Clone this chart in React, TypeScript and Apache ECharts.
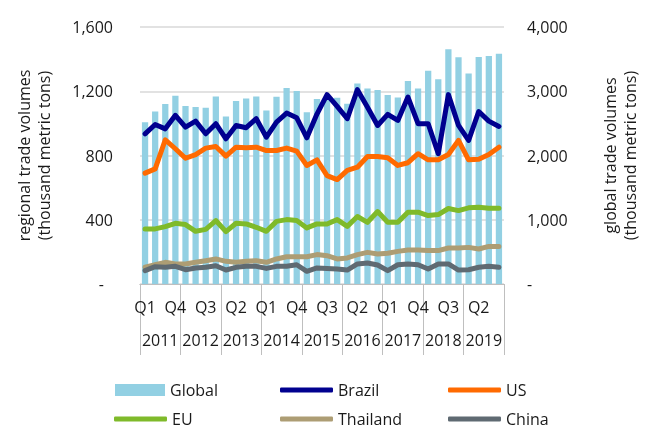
import React, { useEffect, useRef } from "react";
import * as echarts from "echarts";

const years = ["2011", "2012", "2013", "2014", "2015", "2016", "2017", "2018", "2019"];
const quarterNames = ["Q1", "Q2", "Q3", "Q4"];
const quarters: string[] = [];
years.forEach((y) => quarterNames.forEach((q) => quarters.push(q)));

const globalVals = [
  2519, 2686, 2801, 2930, 2769, 2753, 2743, 2920, 2608, 2847, 2889, 2920,
  2701, 2915, 3049, 3003, 2675, 2878, 2870, 2899, 2806, 3122, 3044, 3018,
  2940, 2904, 3158, 3044, 3320, 3185, 3652, 3528, 3278, 3532, 3548, 3585,
];
const brazil = [
  935, 993, 966, 1050, 977, 1014, 935, 998, 904, 987, 973, 1029,
  914, 1008, 1064, 1035, 910, 1058, 1179, 1106, 1029, 1210, 1101, 987,
  1056, 1018, 1164, 998, 998, 811, 1179, 987, 894, 1074, 1014, 981,
];
const us = [
  690, 717, 898, 842, 783, 806, 846, 856, 796, 852, 848, 852,
  831, 831, 846, 827, 738, 773, 675, 650, 707, 727, 794, 794,
  786, 738, 755, 811, 773, 773, 806, 894, 773, 777, 806, 852,
];
const eu = [
  343, 343, 357, 378, 370, 328, 340, 395, 326, 378, 374, 353,
  328, 390, 401, 395, 349, 374, 374, 401, 359, 420, 384, 451,
  384, 384, 447, 447, 426, 432, 470, 457, 474, 478, 472, 472,
];
const thailand = [
  104, 120, 135, 125, 125, 135, 145, 156, 141, 135, 141, 145,
  135, 156, 170, 170, 170, 183, 176, 156, 162, 183, 197, 187,
  191, 203, 212, 212, 208, 208, 224, 224, 228, 218, 234, 234,
];
const china = [
  83, 108, 104, 110, 89, 100, 104, 114, 87, 104, 110, 110,
  97, 110, 110, 120, 79, 100, 97, 93, 87, 125, 131, 118,
  83, 120, 125, 120, 93, 125, 125, 87, 89, 104, 110, 104,
];

const leftTicks = [0, 400, 800, 1200, 1600];
const rightTicks = [0, 1000, 2000, 3000, 4000];

const FONT = "Open Sans";
const FS = 16;
const TXT = "#1a1a1a";

const lineDefs = [
  { name: "Brazil", data: brazil, color: "#00008f" },
  { name: "US", data: us, color: "#ff6a00" },
  { name: "EU", data: eu, color: "#7fba2a" },
  { name: "Thailand", data: thailand, color: "#ad9d74" },
  { name: "China", data: china, color: "#5f6a72" },
];

const fmt = (v: number) => (v === 0 ? "-" : v.toLocaleString("en-US"));

export default function App() {
  const ref = useRef<HTMLDivElement>(null);
  useEffect(() => {
    if (!ref.current) return;
    const chart = echarts.init(ref.current, undefined, { renderer: "svg" });
    const legendPos: Record<string, [number, number]> = {
      Global: [115, 382],
      Brazil: [280, 382],
      US: [448, 382],
      EU: [114, 411],
      Thailand: [280, 411],
      China: [448, 411],
    };
    const legends = Object.keys(legendPos).map((n) => ({
      data: [n],
      left: legendPos[n][0],
      top: legendPos[n][1],
      padding: 0,
      icon: n === "Global" ? "rect" : "roundRect",
      itemWidth: n === "Global" ? 50 : 53,
      itemHeight: n === "Global" ? 12 : 5,
      textStyle: { fontFamily: FONT, fontSize: FS, color: TXT },
      selectedMode: false,
    }));
    chart.setOption({
      animation: false,
      textStyle: { fontFamily: FONT },
      legend: legends,
      grid: { left: 140, right: 131, top: 27, bottom: 146 },
      xAxis: [
        {
          type: "category",
          data: quarters,
          axisLine: { show: true, lineStyle: { color: "#bfbfbf", width: 1 } },
          axisTick: { show: false },
          axisLabel: { interval: 2, margin: 15, fontFamily: FONT, fontSize: FS, color: TXT },
        },
        {
          type: "category",
          data: years,
          position: "bottom",
          axisLine: { show: true, lineStyle: { color: "#bfbfbf", width: 1 } },
          axisTick: { show: true, length: 71, lineStyle: { color: "#bfbfbf", width: 1 } },
          axisLabel: { interval: 0, margin: 48, fontFamily: FONT, fontSize: FS, color: TXT },
        },
      ],
      yAxis: [
        {
          type: "value",
          min: leftTicks[0],
          max: leftTicks[leftTicks.length - 1],
          interval: 400,
          name: "regional trade volumes\n(thousand metric tons)",
          nameLocation: "middle",
          nameRotate: 90,
          nameGap: 86,
          nameTextStyle: { fontFamily: FONT, fontSize: FS, color: TXT, lineHeight: 20 },
          axisLine: { show: false },
          axisTick: { show: false },
          splitLine: { show: true, lineStyle: { color: "#d9d9d9", width: 1.5 } },
          axisLabel: {
            margin: 27,
            fontFamily: FONT,
            fontSize: FS,
            color: TXT,
            formatter: (v: number) => (v === 0 ? "{d|-}" : fmt(v)),
            rich: { d: { padding: [0, 9, 0, 0], fontFamily: FONT, fontSize: FS, color: TXT } },
          },
        },
        {
          type: "value",
          min: rightTicks[0],
          max: rightTicks[rightTicks.length - 1],
          interval: 1000,
          name: "global trade volumes\n(thousand metric tons)",
          nameLocation: "middle",
          nameRotate: 90,
          nameGap: 96,
          nameTextStyle: { fontFamily: FONT, fontSize: FS, color: TXT, lineHeight: 20 },
          axisLine: { show: false },
          axisTick: { show: false },
          splitLine: { show: false },
          axisLabel: { margin: 23, fontFamily: FONT, fontSize: FS, color: TXT, formatter: fmt },
        },
      ],
      series: [
        {
          name: "Global",
          type: "bar",
          xAxisIndex: 0,
          yAxisIndex: 1,
          data: globalVals,
          barWidth: "62%",
          itemStyle: { color: "#92d0e3" },
        },
        ...lineDefs.map((d) => ({
          name: d.name,
          type: "line",
          xAxisIndex: 0,
          yAxisIndex: 0,
          data: d.data,
          showSymbol: false,
          symbol: "none",
          itemStyle: { color: d.color },
          lineStyle: { color: d.color, width: 5, cap: "round", join: "round" },
        })),
      ],
    });
    return () => chart.dispose();
  }, []);
  return (
    <div
      ref={ref}
      style={{ position: "fixed", left: 0, top: 0, width: 648, height: 430 }}
    />
  );
}
